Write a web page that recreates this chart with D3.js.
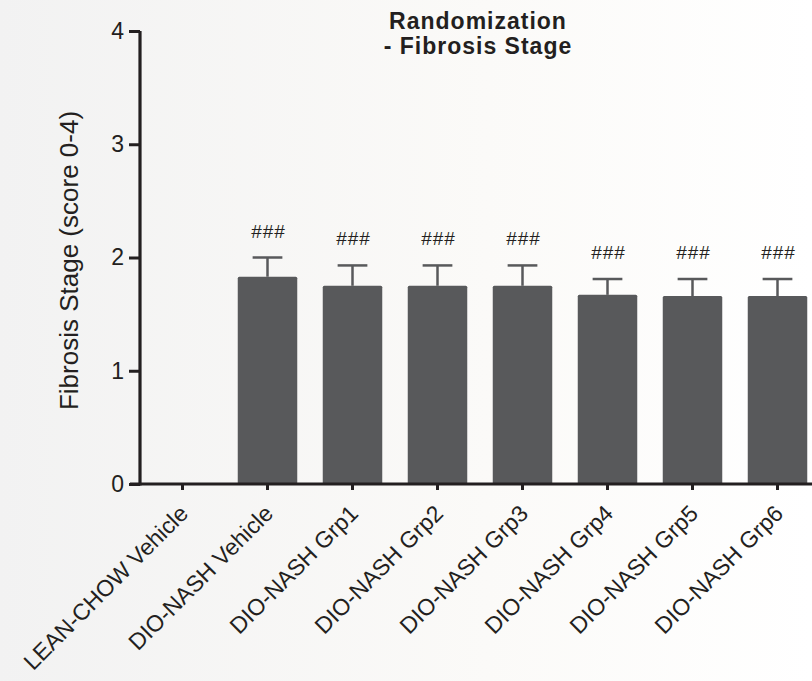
<!DOCTYPE html>
<html>
<head>
<meta charset="utf-8">
<script src="https://cdn.jsdelivr.net/npm/d3@7"></script>
<style>
  html, body { margin: 0; padding: 0; background: #fff; }
  text { font-family: Arial, "Liberation Sans", Helvetica, sans-serif; fill: #231f20; }
</style>
</head>
<body>
<svg id="chart"></svg>
<script>
// data
const groups = [
  "LEAN-CHOW Vehicle", "DIO-NASH Vehicle", "DIO-NASH Grp1", "DIO-NASH Grp2",
  "DIO-NASH Grp3", "DIO-NASH Grp4", "DIO-NASH Grp5", "DIO-NASH Grp6"
];
const means = [0, 1.83, 1.75, 1.75, 1.75, 1.67, 1.66, 1.66];
const sems  = [0, 0.17, 0.18, 0.18, 0.18, 0.14, 0.15, 0.15];
const marks = ["", "###", "###", "###", "###", "###", "###", "###"];
const yTicks = [0, 1, 2, 3, 4];

const W = 812, H = 681;
const x0 = 140, yBase = 484, yTop = 31;

const svg = d3.select("#chart").attr("width", W).attr("height", H);

// faint background wash like the scanned figure
const defs = svg.append("defs");
const grad = defs.append("linearGradient").attr("id", "bg").attr("x1", 0).attr("x2", 1).attr("y1", 0).attr("y2", 0);
grad.append("stop").attr("offset", "0%").attr("stop-color", "#f2f2f2");
grad.append("stop").attr("offset", "60%").attr("stop-color", "#fbfaf8");
grad.append("stop").attr("offset", "100%").attr("stop-color", "#ffffff");
svg.append("rect").attr("width", W).attr("height", H).attr("fill", "url(#bg)");

const x = d3.scaleBand().domain(groups).range([x0, x0 + 8 * 85]).paddingInner(0.3).paddingOuter(0.15);
const y = d3.scaleLinear().domain([0, 4]).range([yBase, yTop]);

// Bars
svg.append("g").selectAll("rect")
  .data(groups)
  .join("rect")
  .attr("x", d => x(d))
  .attr("y", (d, i) => y(means[i]))
  .attr("width", x.bandwidth())
  .attr("height", (d, i) => yBase - y(means[i]))
  .attr("rx", 1.5)
  .attr("fill", "#58595b");

// Error bars (upper only) + significance marks
const eb = svg.append("g").attr("stroke", "#58595b").attr("stroke-width", 2.5);
groups.forEach((g, i) => {
  if (!means[i]) return;
  const cx = x(g) + x.bandwidth() / 2;
  const top = y(means[i] + sems[i]);
  eb.append("line").attr("x1", cx).attr("x2", cx).attr("y1", y(means[i])).attr("y2", top);
  eb.append("line").attr("x1", cx - x.bandwidth() / 4).attr("x2", cx + x.bandwidth() / 4).attr("y1", top).attr("y2", top);
  svg.append("text")
    .attr("x", cx + 1).attr("y", top - 20)
    .attr("text-anchor", "middle")
    .attr("font-size", 19)
    .attr("letter-spacing", 1)
    .attr("fill", "#333")
    .text(marks[i]);
});

// Y axis
const yAxis = svg.append("g")
  .attr("transform", `translate(${x0},0)`)
  .call(d3.axisLeft(y).tickValues(yTicks).tickFormat(d3.format("d")).tickSize(11).tickPadding(5));
yAxis.select(".domain").attr("d", `M0,${yTop}V${yBase + 1.5}`).attr("stroke", "#231f20").attr("stroke-width", 3.2);
yAxis.selectAll(".tick line").attr("stroke", "#231f20").attr("stroke-width", 3);
yAxis.selectAll(".tick text").attr("font-size", 23).attr("fill", "#231f20").attr("font-family", null);

// X axis
const xAxis = svg.append("g")
  .attr("transform", `translate(0,${yBase})`)
  .call(d3.axisBottom(x).tickSize(6).tickSizeOuter(0));
xAxis.select(".domain").attr("d", `M${x0 - 10},0H${W}`).attr("stroke", "#231f20").attr("stroke-width", 3.2);
xAxis.selectAll(".tick line").attr("stroke", "#231f20").attr("stroke-width", 3);
xAxis.selectAll(".tick text")
  .attr("font-size", 23)
  .attr("font-family", null)
  .attr("fill", "#231f20")
  .attr("text-anchor", "end")
  .attr("y", 0).attr("dy", 0)
  .attr("transform", "translate(7,31) rotate(-45)");

// Axis title
svg.append("text")
  .attr("transform", `translate(78,${(yTop + yBase) / 2 + 3}) rotate(-90)`)
  .attr("text-anchor", "middle")
  .attr("font-size", 26)
  .text("Fibrosis Stage (score 0-4)");

// Chart title
const title = svg.append("text").attr("text-anchor", "middle").attr("font-size", 23)
  .attr("font-weight", "bold").attr("letter-spacing", 1);
title.append("tspan").attr("x", 478).attr("y", 29).text("Randomization");
title.append("tspan").attr("x", 478).attr("y", 54).text("- Fibrosis Stage");
</script>
</body>
</html>
